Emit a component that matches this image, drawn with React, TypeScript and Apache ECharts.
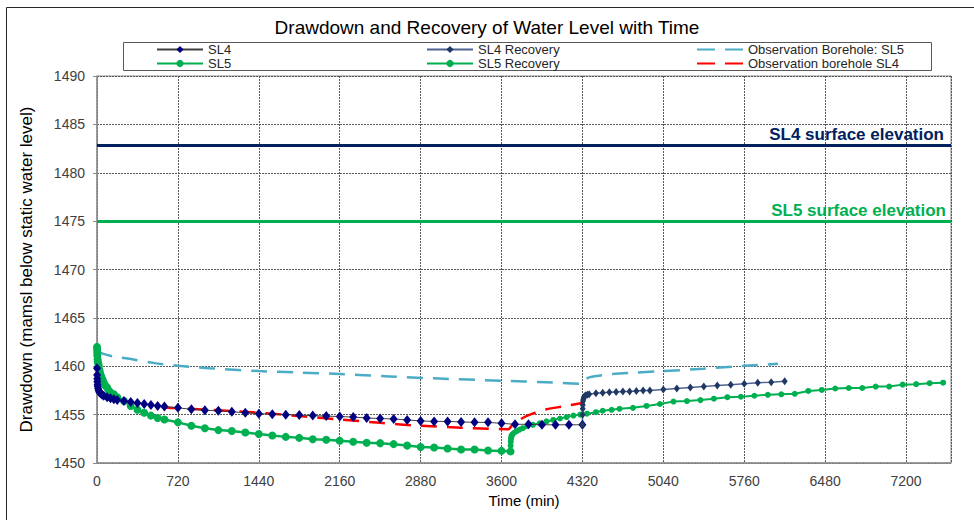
import React, { useEffect, useRef } from "react";
import * as echarts from "echarts";

// ---- Data ----
const sl4Time = [0, 1, 2, 3, 5, 7, 10, 15, 20, 30, 45, 60, 90, 120, 150, 180, 240, 300, 360, 420, 480, 540, 600, 720, 840, 960, 1080, 1200, 1320, 1440, 1560, 1680, 1800, 1920, 2040, 2160, 2280, 2400, 2520, 2640, 2760, 2880, 3000, 3120, 3240, 3360, 3480, 3600, 3720, 3840, 3960, 4080, 4200, 4320];
const sl4Level = [1459.8, 1459.1, 1458.7, 1458.4, 1458.1, 1457.9, 1457.7, 1457.5, 1457.35, 1457.2, 1457.05, 1456.95, 1456.8, 1456.7, 1456.6, 1456.5, 1456.4, 1456.3, 1456.2, 1456.1, 1456.0, 1455.9, 1455.85, 1455.7, 1455.55, 1455.45, 1455.4, 1455.3, 1455.2, 1455.1, 1455.05, 1455.0, 1454.95, 1454.9, 1454.85, 1454.8, 1454.75, 1454.65, 1454.6, 1454.55, 1454.45, 1454.35, 1454.3, 1454.3, 1454.25, 1454.2, 1454.2, 1454.1, 1454.0, 1454.0, 1453.95, 1453.95, 1453.95, 1453.95];

const sl4RecTime = [4320, 4321, 4322, 4323, 4325, 4328, 4332, 4340, 4350, 4365, 4380, 4440, 4500, 4560, 4620, 4680, 4740, 4800, 4860, 4920, 5040, 5160, 5280, 5400, 5520, 5640, 5760, 5880, 6000, 6120];
const sl4RecLevel = [1453.95, 1455.0, 1455.6, 1456.0, 1456.4, 1456.6, 1456.8, 1456.9, 1457.0, 1457.05, 1457.1, 1457.2, 1457.25, 1457.3, 1457.35, 1457.4, 1457.4, 1457.45, 1457.5, 1457.5, 1457.6, 1457.7, 1457.8, 1457.9, 1458.0, 1458.1, 1458.2, 1458.3, 1458.35, 1458.45];

const sl5Time = [0, 1, 2, 3, 5, 7, 10, 15, 20, 25, 30, 40, 50, 60, 75, 90, 105, 120, 150, 180, 240, 300, 360, 420, 480, 540, 600, 720, 840, 960, 1080, 1200, 1320, 1440, 1560, 1680, 1800, 1920, 2040, 2160, 2280, 2400, 2520, 2640, 2760, 2880, 3000, 3120, 3240, 3360, 3480, 3600, 3680];
const sl5Level = [1462.0, 1461.7, 1461.4, 1461.1, 1460.7, 1460.5, 1460.3, 1460.1, 1459.7, 1459.4, 1459.2, 1458.9, 1458.6, 1458.3, 1458.0, 1457.8, 1457.5, 1457.3, 1457.1, 1456.8, 1456.4, 1455.9, 1455.5, 1455.2, 1454.9, 1454.65, 1454.5, 1454.2, 1453.85, 1453.6, 1453.4, 1453.3, 1453.15, 1453.0, 1452.85, 1452.7, 1452.6, 1452.45, 1452.4, 1452.3, 1452.2, 1452.1, 1452.05, 1451.95, 1451.8, 1451.65, 1451.6, 1451.5, 1451.4, 1451.4, 1451.3, 1451.25, 1451.2];

const sl5RecTime = [3680, 3681, 3682, 3684, 3687, 3690, 3700, 3715, 3735, 3760, 3790, 3830, 3880, 3940, 4000, 4060, 4120, 4180, 4240, 4300, 4360, 4440, 4500, 4580, 4650, 4770, 4890, 5010, 5130, 5250, 5370, 5490, 5610, 5730, 5850, 5970, 6090, 6210, 6330, 6450, 6570, 6690, 6810, 6930, 7050, 7170, 7290, 7410, 7530];
const sl5RecLevel = [1451.2, 1451.8, 1452.2, 1452.5, 1452.7, 1452.85, 1453.0, 1453.15, 1453.3, 1453.45, 1453.6, 1453.8, 1453.95, 1454.1, 1454.3, 1454.45, 1454.6, 1454.75, 1454.9, 1455.0, 1455.1, 1455.25, 1455.4, 1455.5, 1455.6, 1455.7, 1455.9, 1456.1, 1456.35, 1456.4, 1456.5, 1456.65, 1456.8, 1456.85, 1456.95, 1457.05, 1457.1, 1457.15, 1457.45, 1457.55, 1457.7, 1457.75, 1457.75, 1457.9, 1457.9, 1458.1, 1458.15, 1458.25, 1458.3];

const obsSL5Time = [0, 50, 150, 300, 500, 720, 1000, 1440, 1800, 2160, 2600, 3000, 3600, 4000, 4300, 4320, 4340, 4380, 4450, 4590, 4800, 5040, 5400, 5760, 6060];
const obsSL5Level = [1461.6, 1461.3, 1461.0, 1460.75, 1460.35, 1460.05, 1459.8, 1459.5, 1459.35, 1459.2, 1458.95, 1458.75, 1458.5, 1458.35, 1458.2, 1458.25, 1458.6, 1458.85, 1459.0, 1459.2, 1459.35, 1459.5, 1459.75, 1460.05, 1460.25];

const obsSL4Time = [575, 720, 1080, 1440, 1800, 2160, 2520, 2880, 3240, 3480, 3660, 3700, 3760, 3820, 3900, 4000, 4150, 4340];
const obsSL4Level = [1455.75, 1455.65, 1455.45, 1455.2, 1454.85, 1454.5, 1454.15, 1453.85, 1453.65, 1453.55, 1453.5, 1454.0, 1454.45, 1454.85, 1455.2, 1455.55, 1455.85, 1456.25];

const surfaceSL4 = 1482.85;
const surfaceSL5 = 1474.95;

const xTicks = [0, 720, 1440, 2160, 2880, 3600, 4320, 5040, 5760, 6480, 7200];
const seriesNames = ["SL4", "SL4 Recovery", "Observation Borehole: SL5", "SL5", "SL5 Recovery", "Observation borehole SL4"];
const dashedNames = ["Observation Borehole: SL5", "Observation borehole SL4"];

const zip = (t: number[], v: number[]) => t.map((x, i) => [x, v[i]]);

const FONT = "'Liberation Sans', Arial, sans-serif";

export default function App() {
  const ref = useRef<HTMLDivElement>(null);
  useEffect(() => {
    document.body.style.margin = "0";
    const chart = echarts.init(ref.current!, null, { renderer: "svg" });
    const legendPos = [
      { left: 156, top: 43 },
      { left: 426, top: 43 },
      { left: 696, top: 43 },
      { left: 156, top: 57 },
      { left: 426, top: 57 },
      { left: 696, top: 57 },
    ];
    const legends = seriesNames.map((n, i) => {
      const dashed = dashedNames.includes(n);
      return {
        data: [n],
        left: legendPos[i].left,
        top: legendPos[i].top,
        padding: 0,
        itemWidth: 46,
        itemHeight: dashed ? 12 : 9,
        selectedMode: false,
        itemStyle: dashed ? { opacity: 0 } : {},
        lineStyle: dashed ? { type: [18, 10] } : {},
        textStyle: { fontFamily: FONT, fontSize: 13, color: "#262626" },
      };
    });
    const option: any = {
      animation: false,
      backgroundColor: "#ffffff",
      title: {
        text: "Drawdown and Recovery of Water Level with Time",
        left: "center",
        top: 13,
        textStyle: { fontFamily: FONT, fontSize: 19, fontWeight: "normal", color: "#000" },
      },
      legend: legends,
      graphic: [
        { type: "rect", shape: { x: 6.5, y: 7.5, width: 1000, height: 600 }, style: { fill: "none", stroke: "#262626", lineWidth: 1 }, silent: true },
        { type: "rect", shape: { x: 123.5, y: 42.5, width: 808, height: 28 }, style: { fill: "none", stroke: "#595959", lineWidth: 1 }, silent: true, z: -1 },
      ],
      grid: { left: 97, right: 23, top: 76, bottom: 57, show: true, borderColor: "#8c8c8c", borderWidth: 1 },
      xAxis: {
        type: "value",
        min: 0,
        max: 7600,
        interval: 720,
        name: "Time (min)",
        nameLocation: "middle",
        nameGap: 30,
        nameTextStyle: { fontFamily: FONT, fontSize: 15, color: "#000" },
        axisLine: { lineStyle: { color: "#8c8c8c", width: 1.5 } },
        axisTick: { show: false },
        axisLabel: {
          fontFamily: FONT, fontSize: 14, color: "#404040", margin: 11, showMaxLabel: false,
          formatter: (v: number) => (xTicks.includes(v) ? String(v) : ""),
        },
        splitLine: { show: true, lineStyle: { color: "#595959", type: [2, 1], width: 1 } },
      },
      yAxis: {
        type: "value",
        min: 1450,
        max: 1490,
        interval: 5,
        name: "Drawdown (mamsl below static water level)",
        nameLocation: "middle",
        nameGap: 62,
        nameTextStyle: { fontFamily: FONT, fontSize: 17, color: "#000" },
        axisLine: { show: true, lineStyle: { color: "#8c8c8c", width: 1.5 } },
        axisTick: { show: true, length: 4, lineStyle: { color: "#8c8c8c" } },
        axisLabel: { fontFamily: FONT, fontSize: 14, color: "#404040", margin: 12, formatter: (v: number) => String(v) },
        splitLine: { show: true, lineStyle: { color: "#595959", type: [2, 1], width: 1 } },
      },
      series: [
        {
          name: "SL4 surface",
          type: "line",
          data: [],
          silent: true,
          markLine: {
            silent: true,
            symbol: "none",
            lineStyle: { color: "#002060", width: 3, type: "solid" },
            label: {
              position: "insideEndTop", distance: [7, 2], formatter: "SL4 surface elevation",
              fontFamily: FONT, fontSize: 17, fontWeight: "bold", color: "#002060",
            },
            data: [{ yAxis: surfaceSL4 }],
          },
        },
        {
          name: "SL5 surface",
          type: "line",
          data: [],
          silent: true,
          markLine: {
            silent: true,
            symbol: "none",
            lineStyle: { color: "#00b050", width: 3, type: "solid" },
            label: {
              position: "insideEndTop", distance: [5, 3], formatter: "SL5 surface elevation",
              fontFamily: FONT, fontSize: 17, fontWeight: "bold", color: "#00b050",
            },
            data: [{ yAxis: surfaceSL5 }],
          },
        },
        {
          name: "Observation Borehole: SL5",
          type: "line",
          data: zip(obsSL5Time, obsSL5Level),
          smooth: 0.3,
          symbol: "none",
          lineStyle: { color: "#4bacc6", width: 2.5, type: [16, 10] },
          itemStyle: { color: "#4bacc6" },
          z: 3,
        },
        {
          name: "Observation borehole SL4",
          type: "line",
          data: zip(obsSL4Time, obsSL4Level),
          smooth: 0.3,
          symbol: "none",
          lineStyle: { color: "#ff0000", width: 2.5, type: [16, 10] },
          itemStyle: { color: "#ff0000" },
          z: 3,
        },
        {
          name: "SL5",
          type: "line",
          data: zip(sl5Time, sl5Level),
          symbol: "circle",
          symbolSize: 8,
          lineStyle: { color: "#00b050", width: 2.5 },
          itemStyle: { color: "#00b050" },
          z: 4,
        },
        {
          name: "SL5 Recovery",
          type: "line",
          data: zip(sl5RecTime, sl5RecLevel),
          symbol: "circle",
          symbolSize: 6,
          lineStyle: { color: "#00b050", width: 2 },
          itemStyle: { color: "#00b050" },
          z: 4,
        },
        {
          name: "SL4",
          type: "line",
          data: zip(sl4Time, sl4Level),
          symbol: "diamond",
          symbolSize: [8, 10],
          lineStyle: { color: "#404040", width: 1 },
          itemStyle: { color: "#000080" },
          z: 5,
        },
        {
          name: "SL4 Recovery",
          type: "line",
          data: zip(sl4RecTime, sl4RecLevel),
          symbol: "diamond",
          symbolSize: [6, 8],
          lineStyle: { color: "#4f6394", width: 1.5 },
          itemStyle: { color: "#1f3864" },
          z: 5,
        },
      ],
    };
    chart.setOption(option);
    return () => chart.dispose();
  }, []);
  return <div ref={ref} style={{ position: "fixed", left: 0, top: 0, width: 974, height: 520, background: "#fff" }} />;
}
